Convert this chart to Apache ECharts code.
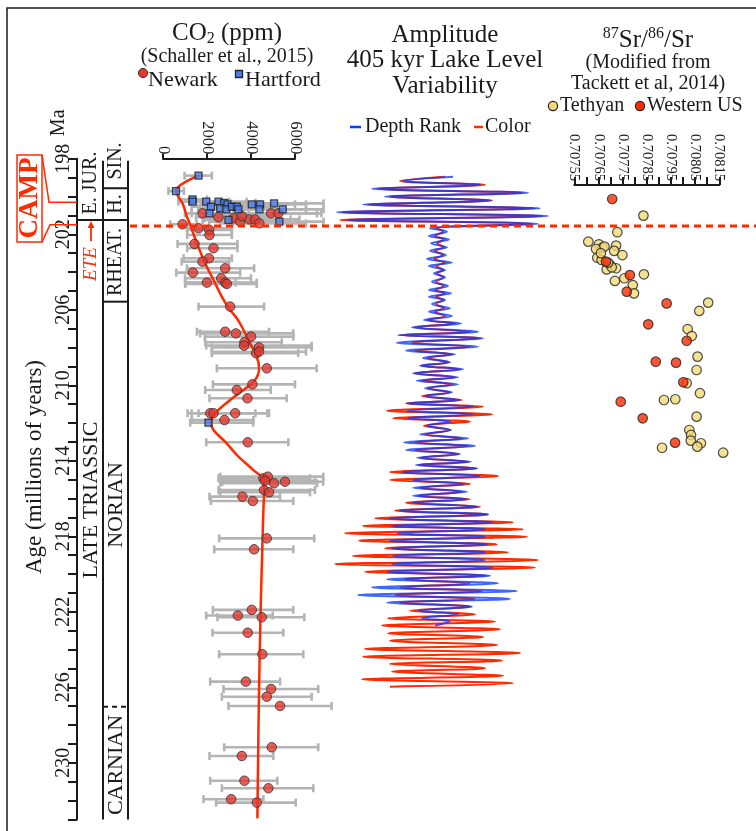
<!DOCTYPE html>
<html><head><meta charset="utf-8">
<script src="https://cdn.jsdelivr.net/npm/echarts@6/dist/echarts.min.js"></script>
<style>html,body{margin:0;padding:0;background:#fff}#c{width:756px;height:831px}</style>
</head><body><div id="c"></div>
<script>
// ---------------- DATA ----------------
// CO2 (ppm), Schaller et al. 2015 : [age Ma, CO2, low, high]
const newark = [
 [200.89,1796,1000,2800],[201.10,2522,1500,3800],[201.15,3202,1900,4800],[201.33,3506,2100,5200],
 [201.21,3928,2400,5800],[201.21,4186,2500,6200],[201.42,4381,2600,6500],[200.89,4911,3000,7000],
 [200.89,5243,3200,7200],[201.03,3583,2200,5300],[201.47,889,331,1542],[201.68,1615,1088,3129],
 [201.77,2100,1100,3129],[202.04,2113,1100,3129],[202.51,1433,662,3383],[202.74,2295,1100,3383],
 [203.27,2086,934,3129],[203.45,1796,850,3000],[203.80,2826,1088,4141],[204.03,1361,603,3506],
 [204.33,2644,1000,4000],[204.56,2826,1011,4263],[204.63,2902,1011,4263],[204.56,1995,1011,3300],
 [205.83,3052,1615,4594],[207.16,2826,1542,4821],[207.25,3311,1692,5923],[207.42,4004,1900,5923],
 [207.72,3701,1918,5397],[207.90,3687,1964,6757],[207.99,4367,2222,6757],[208.30,4231,2222,6148],
 [208.22,4367,2222,6500],[209.10,4717,2449,6984],[209.95,4064,2268,6000],[210.25,3356,1918,4898],
 [210.69,3837,2113,5624],[211.48,2145,1116,4744],[211.48,2295,1300,4200],[211.48,3279,1615,4821],
 [211.84,2794,1315,4109],[213.02,3852,1964,5697],[214.93,4563,2522,6680],[214.84,4762,2599,7284],
 [215.05,4639,2690,6907],[215.19,5048,2600,7000],[215.11,5546,2700,7280],[215.55,4594,2522,6907],
 [215.67,4821,2600,6680],[215.90,3610,2113,5320],[216.13,4082,2177,5923],[218.11,4717,2553,6875],
 [218.69,4141,2327,5923],[221.90,4036,2268,5923],[222.20,3401,1964,4988],[222.29,4490,2476,6422],
 [223.11,3852,2250,5470],[224.25,4517,2553,6377],[225.70,3764,2145,5320],[226.09,4911,2748,7057],
 [226.50,4717,2676,6757],[226.99,5320,2975,7663],[229.18,4943,2780,7057],[229.64,3583,2113,5016],
 [230.95,3701,2145,5198],[231.35,4790,2676,6831],[231.93,3097,1842,4563],[232.11,4263,2416,6031]
];
const hartford = [
 [198.89,1615,980,2222],[199.71,590,250,950],[200.15,1343,700,2000],[200.27,1343,700,2100],
 [200.27,1964,1200,3000],[200.54,2177,1300,3300],[200.27,2522,1500,3800],[200.33,2780,1700,4200],
 [200.41,2930,1800,4400],[200.62,2599,1600,3900],[200.68,2871,1700,4300],[200.54,3130,1900,4700],
 [200.54,3356,2000,5000],[200.68,3429,2100,5100],[200.41,4036,2500,6000],[200.41,4413,2700,6500],
 [200.68,4381,2700,6500],[200.36,5048,3100,7300],[200.68,5442,3300,7300],[200.89,2113,1300,3200],
 [201.24,2975,1800,4400],[201.33,5288,3200,7300],[211.98,2068,1238,4100]
];
// smoothed CO2 trend
const fitAge = [198.89,199.71,200.40,201.07,201.51,202.48,203.54,204.42,205.31,206.01,206.45,206.90,207.78,208.49,209.10,209.72,210.25,210.78,211.40,211.93,212.37,212.99,213.78,214.49,215.02,215.64,216.61,219.61,223.14,228.44,232.94];
const fitCO2 = [1615,590,900,1088,1238,1542,1918,2295,2676,3052,3356,3583,3959,4263,4367,4186,3655,3052,2449,2177,2295,2826,3429,4109,4563,4594,4563,4490,4413,4336,4290];

// 405 kyr amplitude, turning points (age Ma) and signed swing (arbitrary units)
const ampAge = [198.95,199.17,199.38,199.59,199.80,200.01,200.21,200.42,200.62,200.83,201.03,201.24,201.45,
 201.68,201.86,202.09,202.27,202.48,202.69,202.87,203.10,203.31,203.50,203.68,203.89,204.07,204.28,204.51,204.74,204.95,205.13,205.31,205.48,205.69,205.92,206.10,206.33,206.54,206.72,206.93,207.16,207.34,207.51,
 207.74,207.96,208.17,208.36,208.55,208.78,208.96,209.15,209.36,209.58,209.76,209.95,210.16,210.37,210.57,210.78,210.95,211.13,211.35,211.54,211.75,211.93,212.14,212.37,212.60,212.81,213.02,213.22,213.43,213.64,213.84,214.05,214.22,214.40,214.59,214.81,215.02,215.23,215.43,215.64,215.85,216.04,216.22,216.43,
 216.64,216.84,217.05,217.26,217.45,217.63,217.84,218.02,218.23,218.42,218.64,218.85,219.04,219.26,219.47,219.66,219.88,220.09,220.28,220.49,220.71,220.90,221.11,221.32,221.52,221.73,221.94,222.13,222.34,222.52,222.73,
 222.93,223.14,223.33,223.54,223.76,223.97,224.18,224.38,224.59,224.76,224.99,225.17,225.39,225.58,225.79,225.97];
const depthRank = [13,-37,40,-68,88,-55,50,-77,100,-103,108,-93,98,
 -10,7,-11,9,-9,7,-10,6,-13,12,-11,5,-6,5,-8,8,-11,11,-11,5,-8,10,-11,12,-16,21,-28,38,-42,43,
 -43,38,-34,15,-17,10,-20,23,-27,18,-23,18,-15,12,-15,20,-33,33,-33,33,-32,11,-13,11,-20,28,-36,35,-34,20,-23,31,-24,37,-37,40,-27,25,-27,27,-27,27,-28,37,
 -40,48,-50,52,-48,45,-43,45,-50,47,-48,45,-47,45,-48,53,-53,50,-53,58,-68,77,-82,70,-53,32,-21,18,-18,10,-5];
const colorAmp = [5,-40,45,-62,82,-50,52,-72,95,-98,102,-100,92,
 -4,3,-5,4,-3,4,-5,3,-6,5,-4,3,-3,3,-4,4,-5,5,-4,3,-4,4,-5,5,-12,15,-25,30,-40,40,
 -28,30,-25,12,-12,8,-18,20,-25,15,-18,12,-12,10,-18,22,-34,43,-53,52,-47,30,-16,10,-15,22,-25,28,-25,18,-20,28,-22,37,-50,58,-50,30,-20,22,-22,30,-34,40,
 -45,48,-65,73,-77,83,-95,87,-81,57,-55,68,-87,98,-105,95,-75,46,-35,30,-40,42,-45,35,-40,31,-30,35,-52,55,-58,
 60,-52,43,-50,57,-75,80,-77,62,-50,45,-48,63,-78,73,-50];

// 87Sr/86Sr (Tackett et al. 2014): [age Ma, ratio]
const tethyan = [
 [201.01,0.707836],[201.89,0.707728],[202.39,0.707608],[202.53,0.707652],[202.71,0.707666],[202.60,0.707723],
 [202.78,0.707640],[202.88,0.707715],[203.10,0.707749],[203.24,0.707645],[203.36,0.707663],[203.63,0.707698],
 [203.86,0.707684],[203.80,0.707723],[203.75,0.707705],[204.12,0.707838],[204.33,0.707757],[204.47,0.707718],
 [204.69,0.707792],[205.13,0.707797],[205.62,0.708104],[206.06,0.708067],[207.02,0.708019],[207.39,0.708036],
 [208.48,0.708060],[209.19,0.708056],[209.89,0.708015],[210.42,0.708070],[210.78,0.707921],[210.74,0.707968],
 [211.66,0.708056],[212.37,0.708026],[212.63,0.708033],[212.93,0.708032],[213.07,0.708074],[213.25,0.708059],
 [213.31,0.707913],[213.57,0.708166],[202.65,0.707675],[203.00,0.707660],[203.50,0.707690]
];
const westernUS = [
 [200.13,0.707707],[203.45,0.707681],[204.16,0.707780],[205.04,0.707767],[205.66,0.707932],[206.77,0.707856],
 [207.64,0.708015],[208.75,0.707887],[208.80,0.707971],[209.84,0.708001],[210.87,0.707742],[211.75,0.707833],
 [213.04,0.707967]
];
// stratigraphy (ages Ma)
const sinHetBoundary = 199.56;
const jurTriBoundary = 201.24;
const eteAge = 201.56;
const rhaNorBoundary = 205.57;
const norCarBoundary = 227.03;
const campTop = 200.30, campBase = 201.50;

// ---------------- CHART ----------------
const F = "'Liberation Serif','Times New Roman',serif";
const INK = '#1a1a1a';
const RED = '#ff2a00';
const gridTop = 158.8, gridH = 660.6;
const chart = echarts.init(document.getElementById('c'), null, {renderer:'canvas'});

const yBase = {type:'value', min:198, max:233, inverse:true, interval:1, splitLine:{show:false}};
const allBars = newark.concat(hartford).map(d => [d[2], d[3], d[0]]);

const option = {
  animation:false,
  backgroundColor:'#fff',
  grid:[
    {left:163, width:132, top:gridTop, height:gridH},
    {left:330, width:220, top:gridTop, height:gridH},
    {left:574.3, width:145, top:gridTop, height:gridH}
  ],
  xAxis:[
    {gridIndex:0, type:'value', position:'top', min:0, max:6000, interval:2000, offset:0.5,
     axisLine:{show:true, onZero:false, lineStyle:{color:INK, width:2}},
     axisTick:{show:true, inside:false, length:5, lineStyle:{color:INK, width:2}},
     axisLabel:{rotate:90, fontSize:16.5, fontFamily:F, color:INK, margin:4, formatter: v => String(v)},
     splitLine:{show:false}},
    {gridIndex:1, type:'value', min:-110, max:110, show:false},
    {gridIndex:2, type:'value', position:'top', min:70755, max:70815, interval:5, offset:-26.2,
     axisLine:{show:true, onZero:false, lineStyle:{color:INK, width:2}},
     axisTick:{show:true, inside:false, length:8, lineStyle:{color:INK, width:2}},
     axisLabel:{rotate:90, fontSize:14.5, fontFamily:F, color:INK, margin:4,
       formatter: v => (Math.round(v - 70755) % 10 === 0) ? (v/100000).toFixed(5) : ''},
     splitLine:{show:false}}
  ],
  yAxis:[
    Object.assign({}, yBase, {gridIndex:0, position:'left', offset:86,
      axisLine:{show:true, onZero:false, lineStyle:{color:INK, width:2}},
      axisTick:{show:true, inside:false, length:9, lineStyle:{color:INK, width:2}},
      axisLabel:{rotate:90, fontSize:20, fontFamily:F, color:INK, margin:3,
        formatter: v => { const r = Math.round(v); return ((r-198)%4===0 && r<=230) ? String(r) : ''; }}}),
    Object.assign({}, yBase, {gridIndex:1, show:false}),
    Object.assign({}, yBase, {gridIndex:2, show:false})
  ],
  series:[
    {type:'custom', xAxisIndex:0, yAxisIndex:0, data:allBars, clip:false, z:1,
     encode:{x:[0,1], y:2},
     renderItem:(params, api) => {
       const a = api.coord([api.value(0), api.value(2)]);
       const b = api.coord([api.value(1), api.value(2)]);
       const st = {stroke:'#b4b4b4', lineWidth:2.6};
       return {type:'group', children:[
         {type:'line', shape:{x1:a[0], y1:a[1], x2:b[0], y2:b[1]}, style:st},
         {type:'line', shape:{x1:a[0], y1:a[1]-4, x2:a[0], y2:a[1]+4}, style:st},
         {type:'line', shape:{x1:b[0], y1:b[1]-4, x2:b[0], y2:b[1]+4}, style:st}
       ]};
     }},
    {type:'line', name:'fit', xAxisIndex:0, yAxisIndex:0, z:2, clip:false,
     data: fitAge.map((a,i) => [fitCO2[i], a]), smooth:0.35, showSymbol:false, symbol:'none',
     lineStyle:{color:RED, width:2.5}},
    {type:'scatter', name:'Newark', xAxisIndex:0, yAxisIndex:0, z:3, clip:false,
     data: newark.map(d => [d[1], d[0]]), symbol:'circle', symbolSize:9.5,
     itemStyle:{color:'#e4372e', borderColor:'#333', borderWidth:1}},
    {type:'scatter', name:'Hartford', xAxisIndex:0, yAxisIndex:0, z:4, clip:false,
     data: hartford.map(d => [d[1], d[0]]), symbol:'rect', symbolSize:7,
     itemStyle:{color:'#4a7cf0', borderColor:'#222', borderWidth:1.3}},
    {type:'line', name:'Color', xAxisIndex:1, yAxisIndex:1, z:2, clip:false,
     data: colorAmp.map((v,i) => [v, ampAge[i]]), smooth:0.35, symbol:'none',
     lineStyle:{color:RED, width:2}},
    {type:'line', name:'Depth Rank', xAxisIndex:1, yAxisIndex:1, z:3, clip:false,
     data: depthRank.map((v,i) => [v, ampAge[i]]), smooth:0.35, symbol:'none',
     lineStyle:{color:'#0b3bff', width:2, opacity:0.78}},
    {type:'scatter', name:'Tethyan', xAxisIndex:2, yAxisIndex:2, z:3, clip:false,
     data: tethyan.map(d => [d[1]*100000, d[0]]), symbol:'circle', symbolSize:9.5,
     itemStyle:{color:'#f3d977', borderColor:'#222', borderWidth:1.2}},
    {type:'scatter', name:'Western US', xAxisIndex:2, yAxisIndex:2, z:4, clip:false,
     data: westernUS.map(d => [d[1]*100000, d[0]]), symbol:'circle', symbolSize:9.5,
     itemStyle:{color:'#ff2a00', borderColor:'#222', borderWidth:1.2}}
  ]
};
chart.setOption(option);

// ---------------- ANNOTATIONS ----------------
const Y = a => chart.convertToPixel({yAxisIndex:0}, a);
const R90 = Math.PI/2;
function T(x, y, text, size, extra, rot){
  return {type:'text', x:x, y:y, rotation: rot||0, z:10,
    style:Object.assign({text:text, fontFamily:F, fontSize:size, fill:INK, align:'center', verticalAlign:'middle'}, extra||{})};
}
function L(x1,y1,x2,y2,color,w,dash){
  return {type:'line', z:9, shape:{x1,y1,x2,y2}, style:{stroke:color||INK, lineWidth:w||2, lineDash:dash||null}};
}
const g = [];
// frame
g.push({type:'rect', z:0, shape:{x:7, y:8, width:800, height:900}, style:{fill:null, stroke:INK, lineWidth:1.5}});
// strat columns
const yTop = Y(198), yBot = Y(233);
g.push(L(103, yTop+2, 103, yBot));
g.push(L(128, yTop+2, 128, yBot));
g.push(L(77, Y(jurTriBoundary), 128, Y(jurTriBoundary)));
g.push(L(103, Y(sinHetBoundary), 128, Y(sinHetBoundary)));
g.push(L(103, Y(rhaNorBoundary), 128, Y(rhaNorBoundary)));
g.push(L(103, Y(norCarBoundary), 128, Y(norCarBoundary), INK, 2, [5,4]));
g.push(T(91, 183, 'E. JUR.', 20, null, R90));
g.push(T(116, 161, 'SIN.', 20, null, R90));
g.push(T(116, 204, 'H.', 20, null, R90));
g.push(T(116, 262, 'RHEAT.', 20, null, R90));
g.push(T(91, 500, 'LATE TRIASSIC', 22, null, R90));
g.push(T(116, 505, 'NORIAN', 22, null, R90));
g.push(T(116, 765, 'CARNIAN', 22, null, R90));
// axis titles
g.push(T(59, Y(198)-36, 'Ma', 20, null, R90));
g.push(T(35, 467, 'Age (millions of years)', 23, null, R90));
// ETE line & label
const yE = Y(eteAge);
g.push(L(130, yE, 760, yE, RED, 3, [7,5]));
g.push(T(91, 264, 'ETE', 19, {fill:RED, fontStyle:'italic'}, R90));
g.push(L(91, 241, 91, Y(jurTriBoundary)+3, RED, 1.8));
g.push({type:'polygon', z:9, shape:{points:[[91, Y(jurTriBoundary)+1],[87.5, Y(jurTriBoundary)+8],[94.5, Y(jurTriBoundary)+8]]}, style:{fill:RED}});
// CAMP callout
const yc1 = Y(campTop), yc2 = Y(campBase);
g.push({type:'rect', z:9, shape:{x:17, y:155, width:25, height:87}, style:{fill:null, stroke:RED, lineWidth:1.5}});
g.push({type:'polyline', z:9, shape:{points:[[42,155],[49,yc1],[77,yc1]]}, style:{stroke:RED, lineWidth:1.5, fill:null}});
g.push({type:'polyline', z:9, shape:{points:[[42,242],[50,yc2],[77,yc2]]}, style:{stroke:RED, lineWidth:1.5, fill:null}});
g.push(T(30, 198, 'CAMP', 27, {fill:RED, fontWeight:'bold'}, R90));
// CO2 title & legend
g.push(T(227, 33, '{m|CO}{s|2}{m| (ppm)}', 25, {rich:{
  m:{fontFamily:F, fontSize:25, fill:INK, lineHeight:28},
  s:{fontFamily:F, fontSize:16, fill:INK, lineHeight:16, verticalAlign:'bottom'}}}));
g.push(T(227, 57, '(Schaller et al., 2015)', 20));
g.push({type:'circle', z:10, shape:{cx:143, cy:73, r:4.6}, style:{fill:'#e4372e', stroke:'#333', lineWidth:1}});
g.push(T(148, 80, 'Newark', 22, {align:'left'}));
g.push({type:'rect', z:10, shape:{x:235.5, y:70.5, width:7, height:7}, style:{fill:'#4a7cf0', stroke:'#222', lineWidth:1.3}});
g.push(T(245, 80, 'Hartford', 22, {align:'left'}));
// amplitude title & legend
g.push(T(445, 35, 'Amplitude', 25));
g.push(T(445, 60, '405 kyr Lake Level', 25));
g.push(T(445, 86, 'Variability', 25));
g.push(L(350, 127, 361, 127, '#0b3bff', 2.5));
g.push(T(365, 127, 'Depth Rank', 20, {align:'left'}));
g.push(L(474, 127, 483, 127, RED, 2.5));
g.push(T(485, 127, 'Color', 20, {align:'left'}));
// Sr title & legend
g.push(T(648, 40, '{s|87}{m|Sr/}{s|86}{m|/Sr}', 25, {rich:{
  m:{fontFamily:F, fontSize:25, fill:INK, lineHeight:28},
  s:{fontFamily:F, fontSize:16, fill:INK, lineHeight:16, verticalAlign:'top'}}}));
g.push(T(648, 63, '(Modified from', 20));
g.push(T(648, 84, 'Tackett et al, 2014)', 20));
g.push({type:'circle', z:10, shape:{cx:553, cy:106, r:4.6}, style:{fill:'#f3d977', stroke:'#222', lineWidth:1.2}});
g.push(T(560, 106, 'Tethyan', 20, {align:'left'}));
g.push({type:'circle', z:10, shape:{cx:640, cy:106, r:4.6}, style:{fill:'#ff2a00', stroke:'#222', lineWidth:1.2}});
g.push(T(647, 106, 'Western US', 20, {align:'left'}));

chart.setOption({graphic:{elements:g}});
</script></body></html>
